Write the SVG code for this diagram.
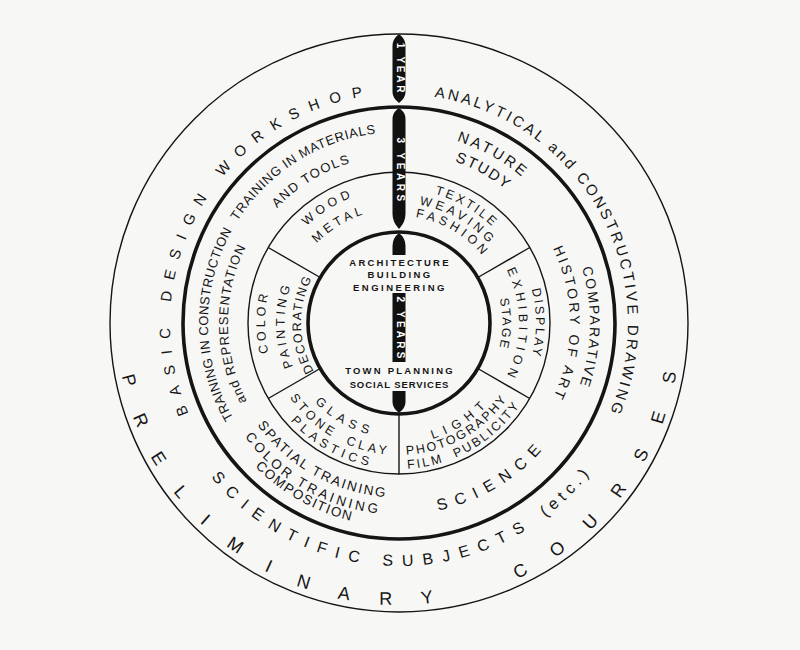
<svg xmlns="http://www.w3.org/2000/svg" width="800" height="650" viewBox="0 0 800 650">
<style>
text{font-family:"Liberation Sans",Arial,sans-serif;fill:#151515;text-anchor:middle}
.ring{fill:none;stroke:#151515}
.thin{stroke-width:1.4}
.thick{stroke-width:3.6}
.div{stroke:#151515;stroke-width:1.4}
.bar{fill:#111}
.bt{fill:#fff;font-size:10px;font-weight:bold;dominant-baseline:central}
.core{font-size:9.5px;font-weight:bold}
.f18{font-size:18px}.f16{font-size:16px}.f15{font-size:15px}.f14{font-size:14px}.f135{font-size:13.5px}.f13{font-size:13px}.f125{font-size:12.5px}
</style>
<defs>
<path id="cw229" d="M173.48,362.77 A229,229 0 1 1 624.52,362.77"/>
<path id="cw191" d="M210.90,356.17 A191,191 0 1 1 587.10,356.17"/>
<path id="cw171" d="M230.60,352.69 A171,171 0 1 1 567.40,352.69"/>
<path id="cw167" d="M234.04,352.09 A167.5,167.5 0 1 1 563.96,352.09"/>
<path id="cw137" d="M264.08,346.79 A137,137 0 1 1 533.92,346.79"/>
<path id="cw134" d="M267.04,346.27 A134,134 0 1 1 530.96,346.27"/>
<path id="cw120" d="M280.82,343.84 A120,120 0 1 1 517.18,343.84"/>
<path id="cw114" d="M286.24,342.88 A114.5,114.5 0 1 1 511.76,342.88"/>
<path id="cw107" d="M293.63,341.58 A107,107 0 1 1 504.37,341.58"/>
<path id="cw103" d="M297.07,340.97 A103.5,103.5 0 1 1 500.93,340.97"/>
<path id="cw98" d="M302.49,340.02 A98,98 0 1 1 495.51,340.02"/>
<path id="ccw281" d="M121.78,274.12 A281.5,281.5 0 1 0 676.22,274.12"/>
<path id="ccw243" d="M159.69,280.80 A243,243 0 1 0 638.31,280.80"/>
<path id="ccw203" d="M198.59,287.66 A203.5,203.5 0 1 0 599.41,287.66"/>
<path id="ccw191" d="M210.41,289.75 A191.5,191.5 0 1 0 587.59,289.75"/>
<path id="ccw174" d="M227.15,292.70 A174.5,174.5 0 1 0 570.85,292.70"/>
<path id="ccw146" d="M255.22,297.65 A146,146 0 1 0 542.78,297.65"/>
<path id="ccw132" d="M269.00,300.08 A132,132 0 1 0 529.00,300.08"/>
<path id="ccw120" d="M280.33,302.08 A120.5,120.5 0 1 0 517.67,302.08"/>
<path id="ccw115" d="M285.25,302.94 A115.5,115.5 0 1 0 512.75,302.94"/>
</defs>
<rect width="800" height="650" fill="#f7f7f5"/>

<g id="rings">
<circle class="ring thin" cx="399" cy="323" r="289"/>
<circle class="ring thick" cx="399" cy="323" r="216"/>
<circle class="ring thin" cx="399" cy="323" r="151"/>
<circle class="ring thick" cx="399" cy="323" r="91"/>
</g>

<g id="connectors">
<line class="div" x1="478.67" y1="369" x2="529.77" y2="398.5"/>
<line class="div" x1="319.33" y1="369" x2="268.23" y2="398.5"/>
<line class="div" x1="319.33" y1="277" x2="268.23" y2="247.5"/>
<line class="div" x1="478.67" y1="277" x2="529.77" y2="247.5"/>
<line class="div" x1="399" y1="413" x2="399" y2="474"/>
</g>

<g id="duration-bar">
<path class="bar" d="M399,34 Q405.5,39 405.5,46 L405.5,92 Q405.5,98 399,103 Q392.5,98 392.5,92 L392.5,46 Q392.5,39 399,34 Z"/>
<text class="bt" transform="translate(400.5,69) rotate(90)" style="letter-spacing:2.8px">1 YEAR</text>
<path class="bar" d="M399,108 Q405.5,112 405.5,119 L405.5,214 Q405.5,222 399,229 Q392.5,222 392.5,214 L392.5,119 Q392.5,112 399,108 Z"/>
<text class="bt" transform="translate(400.5,171) rotate(90)" style="letter-spacing:3.5px">3 YEARS</text>
<path class="bar" d="M399,233 Q405.5,238 405.5,246 L405.5,255 L392.5,255 L392.5,246 Q392.5,238 399,233 Z"/>
<rect class="bar" x="392.5" y="293" width="13" height="69"/>
<text class="bt" transform="translate(400.5,329) rotate(90)" style="letter-spacing:3.2px">2 YEARS</text>
<path class="bar" d="M392.5,391 L405.5,391 L405.5,402 Q405.5,408 399,413 Q392.5,408 392.5,402 Z"/>
</g>

<g id="preliminary-courses">
<text class="f15" transform="rotate(-59.9 399 323)" style="letter-spacing:10.8px"><textPath href="#cw229" startOffset="50%">BASIC DESIGN WORKSHOP</textPath></text>
<text class="f15" transform="rotate(61.16 399 323)" style="letter-spacing:2.85px"><textPath href="#cw229" startOffset="50%">ANALYTICAL and CONSTRUCTIVE DRAWING</textPath></text>
<text class="f16" transform="rotate(-1 399 323)" style="letter-spacing:9.5px"><textPath href="#ccw243" startOffset="50%">SCIENTIFIC SUBJECTS <tspan style="letter-spacing:5px">(etc.)</tspan></textPath></text>
<text class="f18" transform="rotate(-3.42 399 323)" style="letter-spacing:30.2px;word-spacing:22px"><textPath href="#ccw281" startOffset="50%">PRELIMINARY COURSES</textPath></text>
</g>

<g id="training-band">
<text class="f13" transform="rotate(-90.4 399 323)" style="letter-spacing:0.4px"><textPath href="#cw191" startOffset="50%">TRAINING IN CONSTRUCTION</textPath></text>
<text class="f13" transform="rotate(-90.3 399 323)" style="letter-spacing:1px"><textPath href="#cw171" startOffset="50%">and REPRESENTATION</textPath></text>
<text class="f13" transform="rotate(-32.3 399 323)" style="letter-spacing:0.7px"><textPath href="#cw191" startOffset="50%">TRAINING IN MATERIALS</textPath></text>
<text class="f13" transform="rotate(-31.7 399 323)" style="letter-spacing:1.5px"><textPath href="#cw167" startOffset="50%">AND TOOLS</textPath></text>
<text class="f15" transform="rotate(29.2 399 323)" style="letter-spacing:2.8px"><textPath href="#cw191" startOffset="50%">NATURE</textPath></text>
<text class="f15" transform="rotate(29.1 399 323)" style="letter-spacing:1.85px"><textPath href="#cw171" startOffset="50%">STUDY</textPath></text>
<text class="f14" transform="rotate(91.3 399 323)" style="letter-spacing:1.9px"><textPath href="#cw191" startOffset="50%">COMPARATIVE</textPath></text>
<text class="f14" transform="rotate(90.2 399 323)" style="letter-spacing:2.85px"><textPath href="#cw171" startOffset="50%">HISTORY OF ART</textPath></text>
<text class="f16" transform="rotate(-31.26 399 323)" style="letter-spacing:8.4px"><textPath href="#ccw191" startOffset="50%">SCIENCE</textPath></text>
<text class="f135" transform="rotate(29.07 399 323)" style="letter-spacing:2px"><textPath href="#ccw174" startOffset="50%">SPATIAL TRAINING</textPath></text>
<text class="f135" transform="rotate(29.6 399 323)" style="letter-spacing:3.2px"><textPath href="#ccw191" startOffset="50%">COLOR TRAINING</textPath></text>
<text class="f135" transform="rotate(29.2 399 323)" style="letter-spacing:1.5px"><textPath href="#ccw203" startOffset="50%">COMPOSITION</textPath></text>
</g>

<g id="workshops">
<g id="wood-metal">
<text class="f125" transform="rotate(-31.5 399 323)" style="letter-spacing:4.3px"><textPath href="#cw134" startOffset="50%">WOOD</textPath></text>
<text class="f125" transform="rotate(-31.3 399 323)" style="letter-spacing:3.55px"><textPath href="#cw114" startOffset="50%">METAL</textPath></text>
</g>
<g id="textile">
<text class="f125" transform="rotate(30.2 399 323)" style="letter-spacing:2.6px"><textPath href="#cw134" startOffset="50%">TEXTILE</textPath></text>
<text class="f125" transform="rotate(29.9 399 323)" style="letter-spacing:3.8px"><textPath href="#cw120" startOffset="50%">WEAVING</textPath></text>
<text class="f125" transform="rotate(30.8 399 323)" style="letter-spacing:3.9px"><textPath href="#cw107" startOffset="50%">FASHION</textPath></text>
</g>
<g id="display">
<text class="f125" transform="rotate(90.1 399 323)" style="letter-spacing:2.45px"><textPath href="#cw137" startOffset="50%">DISPLAY</textPath></text>
<text class="f125" transform="rotate(90.7 399 323)" style="letter-spacing:4.25px"><textPath href="#cw120" startOffset="50%">EXHIBITION</textPath></text>
<text class="f125" transform="rotate(90.5 399 323)" style="letter-spacing:1.85px"><textPath href="#cw103" startOffset="50%">STAGE</textPath></text>
</g>
<g id="light">
<text class="f125" transform="rotate(-32.55 399 323)" style="letter-spacing:6.5px"><textPath href="#ccw120" startOffset="50%">LIGHT</textPath></text>
<text class="f125" transform="rotate(-29.26 399 323)" style="letter-spacing:2.1px"><textPath href="#ccw132" startOffset="50%">PHOTOGRAPHY</textPath></text>
<text class="f125" transform="rotate(-29.75 399 323)" style="letter-spacing:2.3px;word-spacing:6px"><textPath href="#ccw146" startOffset="50%">FILM PUBLICITY</textPath></text>
</g>
<g id="glass">
<text class="f125" transform="rotate(29.9 399 323)" style="letter-spacing:5.3px"><textPath href="#ccw115" startOffset="50%">GLASS</textPath></text>
<text class="f125" transform="rotate(29.84 399 323)" style="letter-spacing:3.5px;word-spacing:6px"><textPath href="#ccw132" startOffset="50%">STONE CLAY</textPath></text>
<text class="f125" transform="rotate(29.24 399 323)" style="letter-spacing:4.4px"><textPath href="#ccw146" startOffset="50%">PLASTICS</textPath></text>
</g>
<g id="color">
<text class="f125" transform="rotate(-89.6 399 323)" style="letter-spacing:3.6px"><textPath href="#cw134" startOffset="50%">COLOR</textPath></text>
<text class="f125" transform="rotate(-91.15 399 323)" style="letter-spacing:3.4px"><textPath href="#cw114" startOffset="50%">PAINTING</textPath></text>
<text class="f125" transform="rotate(-90.9 399 323)" style="letter-spacing:1.6px"><textPath href="#cw98" startOffset="50%">DECORATING</textPath></text>
</g>
</g>

<g id="core">
<text class="core" x="400" y="265.5" style="letter-spacing:2.2px">ARCHITECTURE</text>
<text class="core" x="400" y="277.5" style="letter-spacing:2.4px">BUILDING</text>
<text class="core" x="400" y="290.5" style="letter-spacing:2.5px">ENGINEERING</text>
<text class="core" x="400" y="373.5" style="letter-spacing:2.2px">TOWN PLANNING</text>
<text class="core" x="399.5" y="387.5" style="letter-spacing:0.9px">SOCIAL SERVICES</text>
</g>
</svg>
